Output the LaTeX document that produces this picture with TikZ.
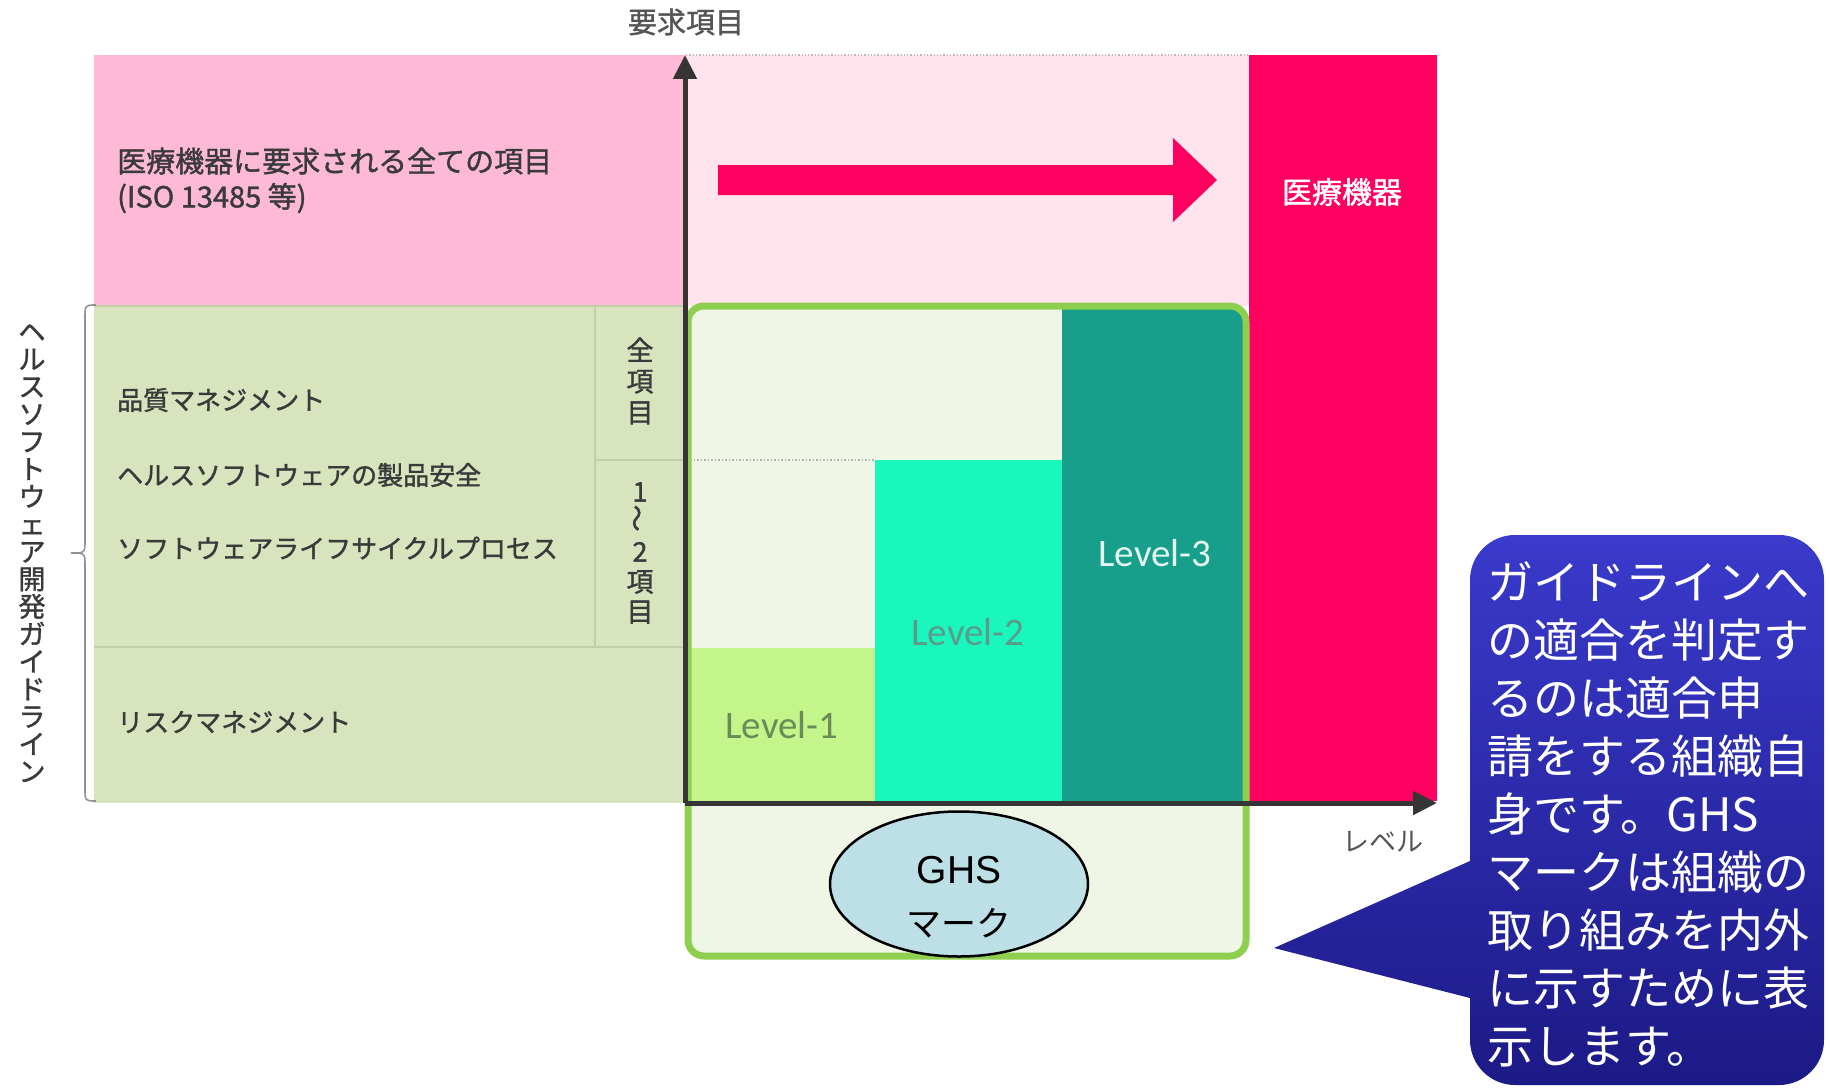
\documentclass[tikz,border=0pt]{standalone}
\usepackage{fontspec}
\usepackage{graphicx}
\setmainfont{Noto Sans CJK JP}
\newfontfamily\jpb[FakeBold=1.3]{Noto Sans CJK JP}
\newfontfamily\latfont{Carlito}
\newfontfamily\arialfont{Liberation Sans}
\usetikzlibrary{arrows.meta,shapes.geometric}
\definecolor{pinkA}{HTML}{FDB9D6}
\definecolor{pinkB}{HTML}{FFE4EE}
\definecolor{hotred}{HTML}{FF0060}
\definecolor{olive}{HTML}{D8E4BD}
\definecolor{oliveline}{HTML}{C2CEA6}
\definecolor{paleg}{HTML}{F0F6E6}
\definecolor{lvA}{HTML}{C4F58A}
\definecolor{lvB}{HTML}{1AF7BD}
\definecolor{lvC}{HTML}{179F8C}
\definecolor{gborder}{HTML}{8FCF4F}
\definecolor{axisc}{HTML}{353535}
\definecolor{txt}{HTML}{3A3A3A}
\definecolor{ttl}{HTML}{555555}
\definecolor{ellc}{HTML}{BCE0E5}
\definecolor{calltop}{HTML}{3A3ACC}
\definecolor{callmid}{HTML}{2422A0}
\definecolor{callbot}{HTML}{1C1A86}
\definecolor{lvAtxt}{HTML}{6A8A58}
\definecolor{lvBtxt}{HTML}{5A9C8A}
\definecolor{lvCtxt}{HTML}{E4F6F0}
\begin{document}
\begin{tikzpicture}[x=1pt,y=-1pt,
  lbl/.style={inner sep=0pt, text=txt, font=\jpb\fontsize{26}{30}\selectfont, anchor=west},
  vtxt/.style={inner sep=0pt, text=txt, align=center},
  lvtxt/.style={inner sep=0pt, font=\latfont\fontsize{39}{44}\selectfont},
  axisline/.style={draw=axisc, line width=5pt, -{Triangle[length=24pt,width=23pt]}},
  calltxt/.style={inner sep=0pt, text=white, align=left, font=\fontsize{46}{58}\selectfont}]
\useasboundingbox (0,0) rectangle (1830,1089);
\fill[white] (0,0) rectangle (1830,1089);

% top regions
\fill[pinkA] (94,55) rectangle (685,306);
\fill[pinkB] (685,55) rectangle (1250,306);
\draw[gray!55, dotted, line width=1.3pt] (686,55) -- (1250,55);
\fill[hotred] (1249,55) rectangle (1437,801);

% left olive panel
\fill[olive] (94,306) rectangle (685,803);
\draw[oliveline, line width=1.5pt] (94,306) -- (685,306);
\draw[oliveline, line width=1.5pt] (595,306) -- (595,647);
\draw[oliveline, line width=1.5pt] (595,460) -- (685,460);
\draw[oliveline, line width=1.5pt] (94,647) -- (685,647);

% brace
\draw[gray!85, line width=1.6pt] (96,305) .. controls (85,305) .. (85,318) -- (85,540)
  .. controls (85,553) .. (71,553) .. controls (85,553) .. (85,566) -- (85,788)
  .. controls (85,801) .. (96,801);

% green box with levels
\fill[paleg, rounded corners=16pt] (688,306) rectangle (1246,956);
\begin{scope}
  \clip[rounded corners=16pt] (688,306) rectangle (1246,956);
  \fill[lvA] (688,648) rectangle (875,803);
  \fill[lvB] (875,460) rectangle (1062,803);
  \fill[lvC] (1062,306) rectangle (1246,803);
\end{scope}
\draw[gray!60, dotted, line width=1.5pt] (690,460) -- (875,460);
\draw[gborder, line width=7pt, rounded corners=16pt] (688,306) rectangle (1246,956);

% big pink arrow
\fill[hotred] (718,165) -- (1173,165) -- (1173,138) -- (1217,180) -- (1173,222) -- (1173,195) -- (718,195) -- cycle;

% axes
\coordinate (O) at (685,803);
\coordinate (ytop) at (685,55);
\coordinate (xend) at (1437,803);
\draw[axisline] (O) -- (ytop);
\draw[axisline] (O) -- (xend);

% titles
\node[inner sep=0pt, text=ttl, font=\jpb\fontsize{29}{32}\selectfont] (ytitle) at (686,22) {要求項目};
\node[inner sep=0pt, text=ttl, font=\fontsize{27}{30}\selectfont] (xtitle) at (1383,842) {レベル};

% left texts
\node[lbl, font=\jpb\fontsize{29}{32}\selectfont] (allitems) at (117,161) {医療機器に要求される全ての項目};
\node[lbl, font=\jpb\fontsize{29}{32}\selectfont] (iso) at (117,198) {(ISO 13485 等)};
\node[lbl] (qm) at (117,400) {品質マネジメント};
\node[lbl] (ps) at (117,475) {ヘルスソフトウェアの製品安全};
\node[lbl] (slc) at (117,548) {ソフトウェアライフサイクルプロセス};
\node[lbl] (rm) at (117,722) {リスクマネジメント};

\node[vtxt, font=\jpb\fontsize{27}{31}\selectfont] (zen) at (640,381) {全\\項\\目};
\node[vtxt, font=\jpb\fontsize{27}{30}\selectfont] (onetwo) at (640,553) {1\\\rotatebox{90}{～}\\2\\項\\目};

\node[vtxt, font=\jpb\fontsize{27}{27.5}\selectfont] (guide) at (32,553)
  {ヘ\\ル\\ス\\ソ\\フ\\ト\\ウ\\ェ\\ア\\開\\発\\ガ\\イ\\ド\\ラ\\イ\\ン};

% red column label
\node[inner sep=0pt, text=white, font=\jpb\fontsize{30}{33}\selectfont] (med) at (1342,192) {医療機器};

% level labels
\node[lvtxt, text=lvAtxt] (l1) at (782,725) {Level-1};
\node[lvtxt, text=lvBtxt] (l2) at (968,632) {Level-2};
\node[lvtxt, text=lvCtxt] (l3) at (1155,553) {Level-3};

% GHS mark
\node[ellipse, draw=black, line width=2.5pt, fill=ellc, minimum width=258pt, minimum height=145pt, inner sep=0pt] (ghs) at (959,884) {};
\node[inner sep=0pt, font=\arialfont\fontsize{39}{44}\selectfont] (ghsA) at (959,870) {GHS};
\node[inner sep=0pt, font=\fontsize{35}{40}\selectfont] (ghsB) at (959,923) {マーク};

% callout
\shade[top color=calltop, middle color=callmid, bottom color=callbot, rounded corners=45pt]
  (1470,535) rectangle (1824,1085)
  [sharp corners] (1470,861) -- (1274,948) -- (1470,998) -- cycle;
\node[calltxt, anchor=north west] (callout) at (1487,561)
  {ガイドラインへ\\の適合を判定す\\るのは適合申\\請をする組織自\\身です。GHS\\マークは組織の\\取り組みを内外\\に示すために表\\示します。};
\end{tikzpicture}
\end{document}
